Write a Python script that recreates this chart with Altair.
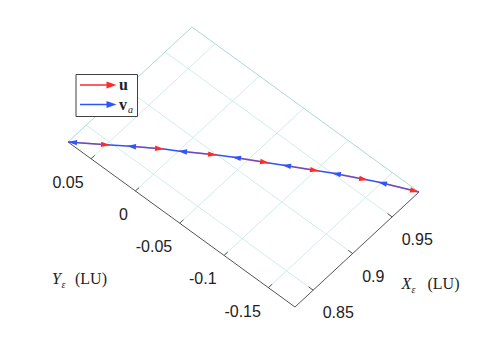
import altair as alt
import pandas as pd
import numpy as np

# ---------------- data ----------------
X_LIM = [0.827, 0.984]
Y_LIM = [-0.180, 0.076]
X_TICKS = [0.85, 0.9, 0.95]
X_TICK_LABELS = ["0.85", "0.9", "0.95"]
Y_TICKS = [0.05, 0.0, -0.05, -0.1, -0.15]
Y_TICK_LABELS = ["0.05", "0", "-0.05", "-0.1", "-0.15"]

# samples along the curve; even index = tip of a v_a arrow, odd index = tip of a u arrow
CURVE_X = [0.827, 0.8481, 0.8568, 0.8750, 0.8813, 0.8999, 0.9068,
           0.9228, 0.9285, 0.9444, 0.9501, 0.9648, 0.9688, 0.984]
CURVE_Y = [0.076, 0.0474, 0.0360, 0.0105, 0.0003, -0.0271, -0.0379,
           -0.0654, -0.0750, -0.1025, -0.1120, -0.1396, -0.1473, -0.180]

RED = "#ff2a2a"
BLUE = "#2d55ff"
GRID = "#d3ebeb"
EDGE = "#acd8d8"
AXIS = "#555555"

# ---------------- 3-D floor projection (layout) ----------------
W, H = 482, 331
ORIGIN = (287.0, 299.0)   # screen point of (X_LIM[0], Y_LIM[0])
EX = (124.0, -115.0)      # screen span of the X range
EY = (-227.0, -165.0)     # screen span of the Y range


def project(X, Y):
    u = (np.asarray(X, float) - X_LIM[0]) / (X_LIM[1] - X_LIM[0])
    v = (np.asarray(Y, float) - Y_LIM[0]) / (Y_LIM[1] - Y_LIM[0])
    return ORIGIN[0] + u * EX[0] + v * EY[0], ORIGIN[1] + u * EX[1] + v * EY[1]


def segs(x1, y1, x2, y2, kind):
    a, b = project(x1, y1)
    c, d = project(x2, y2)
    return pd.DataFrame({"sx": a, "sy": b, "sx2": c, "sy2": d, "kind": kind})


n_x, n_y = len(X_TICKS), len(Y_TICKS)
grid = pd.concat([
    segs(X_TICKS, [Y_LIM[0]] * n_x, X_TICKS, [Y_LIM[1]] * n_x, "grid"),
    segs([X_LIM[0]] * n_y, Y_TICKS, [X_LIM[1]] * n_y, Y_TICKS, "grid"),
    segs([X_LIM[0], X_LIM[1]], [Y_LIM[1], Y_LIM[0]], [X_LIM[1], X_LIM[1]], [Y_LIM[1], Y_LIM[1]], "edge"),
])
axes = pd.concat([
    segs([X_LIM[0]], [Y_LIM[1]], [X_LIM[0]], [Y_LIM[0]], "axis"),
    segs([X_LIM[0]], [Y_LIM[0]], [X_LIM[1]], [Y_LIM[0]], "axis"),
    segs([X_LIM[0]] * n_y, Y_TICKS,
         [X_LIM[0] + 0.03 * (X_LIM[1] - X_LIM[0])] * n_y, Y_TICKS, "tick"),
    segs(X_TICKS, [Y_LIM[0]] * n_x,
         X_TICKS, [Y_LIM[0] + 0.02 * (Y_LIM[1] - Y_LIM[0])] * n_x, "tick"),
])

ylx, yly = project([X_LIM[0]] * n_y, Y_TICKS)
ylab = pd.DataFrame({"sx": ylx, "sy": yly, "t": Y_TICK_LABELS})
xlx, xly = project(X_TICKS, [Y_LIM[0]] * n_x)
xlab = pd.DataFrame({"sx": xlx, "sy": xly, "t": X_TICK_LABELS})

cx, cy = project(CURVE_X, CURVE_Y)
curve = pd.DataFrame({"sx": cx, "sy": cy, "i": np.arange(len(cx))})
curve["seg"] = curve["i"] // 2  # (v_a tip, u tip) pairs

rows = []
for i in range(len(cx)):
    if i % 2 == 1:
        dx, dy = cx[i] - cx[i - 1], cy[i] - cy[i - 1]
        rows.append({"sx": cx[i], "sy": cy[i], "ang": np.degrees(np.arctan2(dy, dx)) % 360, "c": "u"})
    else:
        dx, dy = cx[i + 1] - cx[i], cy[i + 1] - cy[i]
        rows.append({"sx": cx[i], "sy": cy[i], "ang": np.degrees(np.arctan2(dy, dx)) % 360, "c": "v"})
heads = pd.DataFrame(rows)

xs = alt.Scale(domain=[0, W], nice=False, zero=False)
ys = alt.Scale(domain=[0, H], nice=False, zero=False, reverse=True)
X = alt.X("sx:Q", scale=xs, axis=None)
Y = alt.Y("sy:Q", scale=ys, axis=None)
X2 = alt.X2("sx2:Q")
Y2 = alt.Y2("sy2:Q")

grid_l = alt.Chart(grid).mark_rule(strokeWidth=1).encode(
    X, Y, X2, Y2,
    color=alt.Color("kind:N", scale=alt.Scale(domain=["grid", "edge"], range=[GRID, EDGE]), legend=None))
axes_l = alt.Chart(axes).mark_rule(strokeWidth=1, color=AXIS).encode(X, Y, X2, Y2)

ylab_l = alt.Chart(ylab).mark_text(align="right", baseline="middle", dx=-7.5, dy=24,
                                   font="Liberation Sans", fontSize=16, color="#222222").encode(X, Y, text="t:N")
xlab_l = alt.Chart(xlab).mark_text(align="left", baseline="middle", dx=9.5, dy=23,
                                   font="Liberation Sans", fontSize=16, color="#222222").encode(X, Y, text="t:N")

blue_line = alt.Chart(curve).mark_line(color=BLUE, strokeWidth=1.6).encode(X, Y, order="i:Q")
red_line = alt.Chart(curve).mark_line(color=RED, strokeWidth=1.6, opacity=0.35).encode(
    X, Y, detail="seg:N", order="i:Q")

RIGHT_HEAD = "M0,0L-1,-0.3L-1,0.3Z"
LEFT_HEAD = "M0,0L1,-0.3L1,0.3Z"
red_heads = alt.Chart(heads).transform_filter("datum.c == 'u'").mark_point(
    shape=RIGHT_HEAD, filled=True, opacity=1, size=324, color=RED, strokeWidth=0).encode(
    X, Y, angle=alt.Angle("ang:Q", scale=None))
blue_heads = alt.Chart(heads).transform_filter("datum.c == 'v'").mark_point(
    shape=LEFT_HEAD, filled=True, opacity=1, size=324, color=BLUE, strokeWidth=0).encode(
    X, Y, angle=alt.Angle("ang:Q", scale=None))

# axis titles
serif = "Liberation Serif"
def txt(s, x, y, size=16, style="normal", weight="normal", align="left"):
    return alt.Chart(pd.DataFrame({"t": [s]})).mark_text(
        align=align, baseline="middle", font=serif, fontSize=size, fontStyle=style,
        fontWeight=weight, color="#222222").encode(x=alt.value(x), y=alt.value(y), text="t:N")

titles = [
    txt("Y", 44, 271, style="italic"), txt("ε", 53.5, 277, size=10, style="italic"), txt("(LU)", 67, 271),
    txt("X", 393.5, 276, style="italic"), txt("ε", 403.5, 282, size=10, style="italic"), txt("(LU)", 419.5, 276),
]

# legend
one = pd.DataFrame({"a": [0]})
leg_box = alt.Chart(one).mark_rect(fill="white", stroke="#404040", strokeWidth=1).encode(
    x=alt.value(68), x2=alt.value(129.5), y=alt.value(66.5), y2=alt.value(108.5))
leg_r = alt.Chart(one).mark_rule(color=RED, strokeWidth=1.5).encode(
    x=alt.value(72), x2=alt.value(100), y=alt.value(77))
leg_b = alt.Chart(one).mark_rule(color=BLUE, strokeWidth=1.5).encode(
    x=alt.value(72), x2=alt.value(100), y=alt.value(96.5))
LEG_HEAD = "M0,0L-1,-0.35L-1,0.35Z"
leg_rh = alt.Chart(one).mark_point(shape=LEG_HEAD, filled=True, opacity=1, size=400, color=RED,
                                   strokeWidth=0).encode(x=alt.value(108.5), y=alt.value(77))
leg_bh = alt.Chart(one).mark_point(shape=LEG_HEAD, filled=True, opacity=1, size=400, color=BLUE,
                                   strokeWidth=0).encode(x=alt.value(108.5), y=alt.value(96.5))
leg_t = [txt("u", 111, 77, weight="bold"), txt("v", 111, 96.5, weight="bold"),
         txt("a", 120, 102, size=10, style="italic")]

chart = alt.layer(
    grid_l, axes_l, ylab_l, xlab_l, blue_line, red_line, red_heads, blue_heads,
    *titles, leg_box, leg_r, leg_b, leg_rh, leg_bh, *leg_t
).properties(
    width=W, height=H, padding=0, autosize=alt.AutoSizeParams(type="none")
).configure_view(stroke=None)

chart.save("out.html", embed_options={"renderer": "svg", "actions": False})
